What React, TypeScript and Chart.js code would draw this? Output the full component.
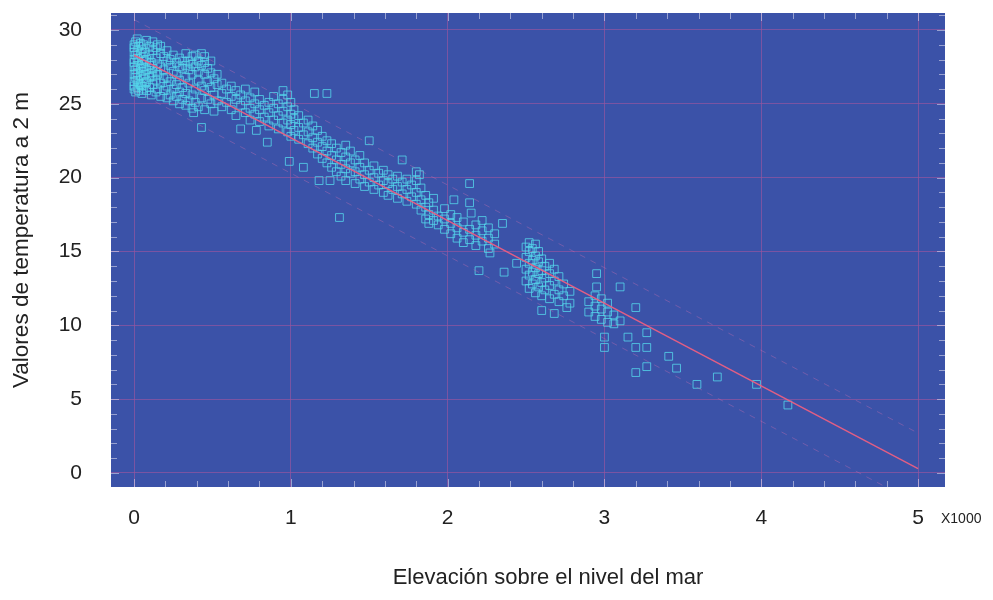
import { useEffect, useRef } from 'react';
import { Chart, registerables } from 'chart.js';

Chart.register(...registerables);

const FONT = '"Liberation Sans Narrow", "Arial Narrow", "Liberation Sans", Arial, sans-serif';

// Elevation ticks (m) and temperature ticks (°C)
const elevationTicks = [0, 1000, 2000, 3000, 4000, 5000];
const temperatureTicks = [0, 5, 10, 15, 20, 25, 30];

// Regression line and prediction bands (elevation m -> temperature)
const regressionElev = [0, 5000];
const regressionTemp = [28.3, 0.3];
const upperBandTemp = [30.7, 2.7];
const lowerBandTemp = [25.9, -2.1];

// Station observations: [elevation, temperatures at that elevation]
const coastal: [number, number[]][] = [
  [0, [26.0, 26.5, 27.0, 27.5, 28.0, 28.5, 29.0, 26.2, 27.8, 28.8]],
  [10, [25.8, 26.8, 27.3, 28.3, 29.2]],
  [20, [26.1, 26.6, 27.1, 27.6, 28.1, 28.6, 29.4]],
  [30, [25.9, 26.4, 27.9, 28.9]],
  [40, [26.3, 26.9, 27.4, 28.4, 29.1]],
  [50, [25.7, 26.2, 27.2, 27.7, 28.7]],
  [60, [26.0, 26.7, 27.5, 28.2, 29.0]],
  [70, [26.4, 27.0, 27.9, 28.5]],
  [80, [25.9, 26.5, 27.3, 28.0, 29.3]],
  [100, [26.1, 26.8, 27.6, 28.3, 28.9]],
  [110, [25.6, 27.1, 27.8]],
  [120, [26.3, 26.9, 27.4, 28.6, 29.2]],
  [140, [25.8, 26.6, 27.2, 28.1, 28.8]],
  [150, [26.0, 27.0, 27.7, 29.0]],
  [170, [25.5, 26.4, 27.5, 28.4, 28.9]],
  [190, [25.9, 26.7, 27.3, 28.2]],
];

const foothills: [number, number[]][] = [
  [210, [25.4, 26.2, 26.8, 27.9, 28.6]],
  [230, [25.6, 26.5, 27.6, 28.0]],
  [250, [25.2, 26.0, 27.2, 28.3]],
  [270, [25.5, 26.3, 27.0, 27.8]],
  [290, [25.0, 25.8, 26.6, 27.5, 28.1]],
  [310, [25.3, 26.1, 27.4, 27.9]],
  [330, [24.9, 25.7, 26.8, 27.6, 28.4]],
  [350, [25.2, 26.4, 27.3, 27.9]],
  [370, [24.7, 25.6, 27.0, 27.7, 28.2]],
  [390, [25.1, 26.0, 27.5, 28.3]],
  [410, [24.8, 26.6, 27.2, 27.9]],
  [430, [25.4, 26.2, 27.6, 28.4]],
  [450, [24.6, 25.9, 27.0, 27.8, 28.2]],
  [470, [25.3, 26.5, 27.4]],
  [490, [25.0, 26.1, 27.1, 27.9]],
  [510, [24.5, 25.6, 26.7]],
  [530, [25.2, 26.3, 27.0]],
  [560, [24.8, 25.7, 26.4]],
  [590, [25.1, 26.0]],
  [620, [24.6, 25.5, 26.2]],
  [650, [24.2, 25.3, 25.9]],
  [680, [24.9, 25.6]],
  [710, [24.4, 25.2, 26.0]],
  [740, [23.9, 24.7, 25.4]],
  [770, [24.3, 25.0, 25.8]],
  [800, [23.8, 24.6, 25.3]],
  [830, [24.1, 24.9]],
  [860, [23.5, 24.4, 25.1]],
  [890, [23.9, 24.7, 25.5]],
  [920, [23.3, 24.2, 25.0]],
  [950, [23.7, 24.5, 25.3, 25.9]],
  [980, [23.1, 23.9, 24.8, 25.6]],
];

const midslope: [number, number[]][] = [
  [1000, [22.8, 23.6, 24.3, 25.1]],
  [1020, [23.2, 24.0, 24.6]],
  [1050, [22.6, 23.4, 24.2]],
  [1080, [22.9, 23.7]],
  [1110, [22.3, 23.1, 23.9]],
  [1140, [22.0, 22.7, 23.5]],
  [1170, [21.6, 22.4, 23.2]],
  [1200, [21.3, 22.1, 22.8]],
  [1230, [21.0, 21.8, 22.5]],
  [1260, [20.7, 21.5, 22.3]],
  [1290, [20.4, 21.2, 22.0]],
  [1320, [20.1, 20.9, 21.7]],
  [1350, [19.8, 20.6, 21.4, 22.2]],
  [1380, [20.3, 21.0, 21.8]],
  [1410, [19.6, 20.4, 21.2]],
  [1440, [19.9, 20.7, 21.5]],
  [1470, [19.4, 20.2, 21.0]],
  [1500, [19.7, 20.5]],
  [1530, [19.2, 20.0, 20.8]],
  [1560, [19.5, 20.3]],
  [1590, [19.0, 19.8, 20.5]],
  [1620, [18.8, 19.6, 20.2]],
  [1650, [19.2, 19.9]],
  [1680, [18.6, 19.4, 20.1]],
  [1710, [18.9, 19.7]],
  [1740, [18.4, 19.2, 19.9]],
  [1770, [18.7, 19.5]],
  [1800, [18.2, 19.0, 19.8, 20.4]],
  [1830, [17.8, 18.5, 19.3]],
  [1860, [17.2, 18.0, 18.8]],
  [1880, [16.9, 17.5, 18.3]],
  [1910, [17.1, 17.8, 18.6]],
  [1940, [16.8, 17.4]],
  [1980, [16.5, 17.2, 17.9]],
  [2020, [16.2, 16.9, 17.5]],
  [2060, [15.9, 16.6, 17.3]],
  [2100, [15.6, 16.3, 17.0]],
  [2140, [15.8, 16.5]],
  [2180, [15.4, 16.1, 16.8]],
  [2220, [15.7, 16.4]],
  [2260, [15.2, 15.9, 16.6]],
  [2300, [15.5, 16.2]],
];

const highland: [number, number[]][] = [
  [2500, [13.0, 13.8, 14.6, 15.3]],
  [2520, [12.5, 13.4, 14.2, 15.0, 15.6]],
  [2540, [12.8, 13.6, 14.4, 15.2]],
  [2560, [12.2, 13.1, 13.9, 14.7, 15.5]],
  [2580, [12.6, 13.5, 14.3, 15.0]],
  [2600, [12.0, 12.9, 13.7, 14.5]],
  [2620, [12.4, 13.2, 14.0]],
  [2650, [11.8, 12.7, 13.5, 14.2]],
  [2680, [12.1, 13.0, 13.8]],
  [2710, [11.6, 12.4, 13.3]],
  [2740, [12.0, 12.8]],
  [2780, [11.5, 12.3]],
  [2900, [10.9, 11.6]],
  [2940, [10.6, 11.3, 12.0]],
  [2980, [10.4, 11.1, 11.8]],
  [3020, [10.2, 10.9, 11.5]],
  [3060, [10.1, 10.7]],
  [3100, [10.3]],
];

const outliers: [number, number[]][] = [
  [380, [24.4]], [430, [23.4]], [680, [23.3]], [780, [23.2]], [850, [22.4]],
  [990, [21.1]], [1080, [20.7]], [1150, [25.7]], [1180, [19.8]], [1230, [25.7]],
  [1250, [19.8]], [1310, [17.3]], [1500, [22.5]], [1710, [21.2]], [1820, [20.2]],
  [2040, [18.5]], [2140, [19.6, 18.3]], [2150, [17.6]], [2200, [13.7]], [2220, [17.1]],
  [2270, [14.9]], [2350, [16.9]], [2360, [13.6]], [2440, [14.2]], [2600, [11.0]],
  [2680, [10.8]], [2760, [11.2]], [2950, [12.6, 13.5]], [3000, [9.2, 8.5]],
  [3100, [12.6]], [3150, [9.2]], [3200, [11.2, 8.5, 6.8]], [3270, [8.5, 9.5, 7.2]],
  [3410, [7.9]], [3460, [7.1]], [3590, [6.0]], [3720, [6.5]], [3970, [6.0]], [4170, [4.6]],
];

const toPoints = (rows: [number, number[]][]) =>
  rows.flatMap(([e, ts]) => ts.map((t) => ({ x: e, y: t })));

const stationPoints = [coastal, foothills, midslope, highland, outliers].flatMap(toPoints);
const linePoints = (temps: number[]) => regressionElev.map((e, i) => ({ x: e, y: temps[i] }));

const PLOT_BG = '#3b52a8';
const GRID = 'rgba(150, 85, 160, 0.7)';

const decorPlugin = {
  id: 'decor',
  beforeDraw(chart: any) {
    const { ctx, chartArea: a } = chart;
    ctx.save();
    ctx.fillStyle = '#ffffff';
    ctx.fillRect(0, 0, chart.width, chart.height);
    ctx.fillStyle = PLOT_BG;
    ctx.fillRect(a.left, a.top, a.right - a.left, a.bottom - a.top);
    ctx.restore();
  },
  afterDraw(chart: any) {
    const { ctx, chartArea: a, scales } = chart;
    const xs = scales.x;
    const ys = scales.y;
    ctx.save();
    ctx.strokeStyle = 'rgba(215, 215, 235, 0.6)';
    ctx.lineWidth = 1;
    ctx.beginPath();
    for (let v = 0; v <= 5000; v += 200) {
      const px = Math.round(xs.getPixelForValue(v)) + 0.5;
      const len = v % 1000 === 0 ? 8 : 6;
      ctx.moveTo(px, a.bottom);
      ctx.lineTo(px, a.bottom - len);
      ctx.moveTo(px, a.top);
      ctx.lineTo(px, a.top + len);
    }
    for (let v = 0; v <= 31; v += 1) {
      const py = Math.round(ys.getPixelForValue(v)) + 0.5;
      const len = v % 5 === 0 ? 8 : 6;
      ctx.moveTo(a.left, py);
      ctx.lineTo(a.left + len, py);
      ctx.moveTo(a.right, py);
      ctx.lineTo(a.right - len, py);
    }
    ctx.stroke();

    ctx.fillStyle = '#222';
    ctx.textAlign = 'center';
    ctx.textBaseline = 'middle';
    ctx.font = `22px ${FONT}`;
    ctx.fillText('Elevación sobre el nivel del mar', 548, 578);
    ctx.save();
    ctx.translate(22, 240);
    ctx.rotate(-Math.PI / 2);
    ctx.font = `22.5px ${FONT}`;
    ctx.fillText('Valores de temperatura a 2 m', 0, 0);
    ctx.restore();
    ctx.font = `14px ${FONT}`;
    ctx.textAlign = 'left';
    ctx.fillText('X1000', 941, 519);
    ctx.restore();
  },
};

export default function App() {
  const ref = useRef<HTMLCanvasElement>(null);
  useEffect(() => {
    const chart = new Chart(ref.current as HTMLCanvasElement, {
      type: 'scatter',
      data: {
        datasets: [
          {
            label: 'Regresión',
            data: linePoints(regressionTemp),
            showLine: true,
            borderColor: 'rgba(235, 95, 130, 0.95)',
            borderWidth: 1.5,
            pointRadius: 0,
            order: 0,
          },
          {
            label: 'Límite superior',
            data: linePoints(upperBandTemp),
            showLine: true,
            borderColor: 'rgba(200, 110, 175, 0.38)',
            borderDash: [6, 6],
            borderWidth: 1,
            pointRadius: 0,
            order: 1,
          },
          {
            label: 'Límite inferior',
            data: linePoints(lowerBandTemp),
            showLine: true,
            borderColor: 'rgba(200, 110, 175, 0.38)',
            borderDash: [6, 6],
            borderWidth: 1,
            pointRadius: 0,
            order: 2,
          },
          {
            label: 'Estaciones',
            data: stationPoints,
            pointStyle: 'rect',
            pointRadius: 5.5,
            borderWidth: 1,
            borderColor: 'rgba(85, 215, 235, 0.8)',
            backgroundColor: 'rgba(0,0,0,0)',
            order: 3,
          },
        ],
      },
      options: {
        responsive: false,
        animation: false,
        events: [],
        layout: { padding: { top: 13, right: 48, left: 0, bottom: 0 } },
        plugins: { legend: { display: false }, tooltip: { enabled: false } },
        scales: {
          x: {
            type: 'linear',
            min: -147,
            max: 5172,
            afterBuildTicks: (s: any) => {
              s.ticks = elevationTicks.map((v) => ({ value: v }));
            },
            afterFit: (s: any) => {
              s.height = 113;
              s.paddingLeft = 0;
              s.paddingRight = 0;
            },
            ticks: {
              callback: (v: any) => String(Number(v) / 1000),
              font: { family: FONT, size: 21 },
              color: '#222',
              padding: 19,
              maxRotation: 0,
            },
            grid: { color: GRID, drawTicks: false, lineWidth: 1 },
            border: { display: false },
          },
          y: {
            type: 'linear',
            min: -0.95,
            max: 31.15,
            afterBuildTicks: (s: any) => {
              s.ticks = temperatureTicks.map((v) => ({ value: v }));
            },
            afterFit: (s: any) => {
              s.width = 111;
              s.paddingTop = 0;
              s.paddingBottom = 0;
            },
            ticks: {
              font: { family: FONT, size: 21 },
              color: '#222',
              padding: 29,
            },
            grid: { color: GRID, drawTicks: false, lineWidth: 1 },
            border: { display: false },
          },
        },
      },
      plugins: [decorPlugin],
    });
    return () => chart.destroy();
  }, []);
  return (
    <div style={{ position: 'fixed', left: 0, top: 0, width: 993, height: 600, background: '#fff' }}>
      <canvas ref={ref} width={993} height={600} style={{ display: 'block' }} />
    </div>
  );
}
